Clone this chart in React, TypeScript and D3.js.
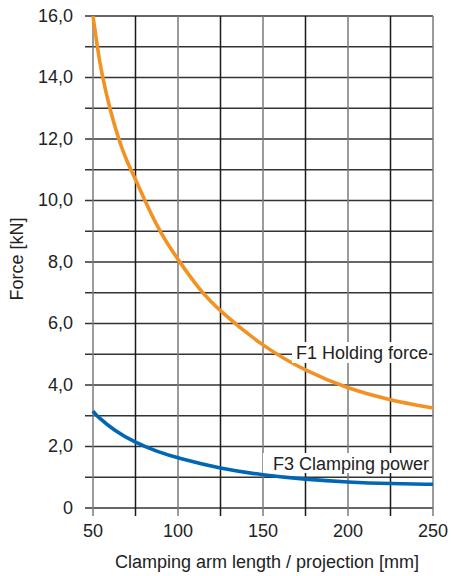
import React from "react";
import * as d3 from "d3";

const f1Length = [50, 52.5, 55, 60, 65, 70, 75, 80, 90, 100, 112.5, 125, 150, 175, 200, 225, 250];
const f1Force = [16.0, 15.0, 14.15, 12.95, 12.0, 11.25, 10.7, 10.05, 8.9, 8.08, 7.1, 6.38, 5.25, 4.45, 3.88, 3.5, 3.25];
const f3Length = [50, 52.5, 62.5, 75, 87.5, 100, 125, 150, 175, 200, 225, 250];
const f3Force = [3.15, 2.98, 2.52, 2.12, 1.84, 1.62, 1.28, 1.07, 0.93, 0.84, 0.79, 0.77];
const xTicks = [50, 100, 150, 200, 250];
const yTicks = [0, 2, 4, 6, 8, 10, 12, 14, 16];
const yTickLabels = ["0", "2,0", "4,0", "6,0", "8,0", "10,0", "12,0", "14,0", "16,0"];
const xGrid = [50, 75, 100, 125, 150, 175, 200, 225, 250];
const yGrid = [0, 1, 2, 3, 4, 5, 6, 7, 8, 9, 10, 11, 12, 13, 14, 15, 16];

const W = 451, H = 576;
const left = 93, right = 433, top = 16, bottom = 508;
const font = "'Liberation Sans', Arial, Helvetica, sans-serif";
const fs = 18;

export default function App() {
  const x = d3.scaleLinear().domain([50, 250]).range([left, right]);
  const y = d3.scaleLinear().domain([0, 16]).range([bottom, top]);
  const makeLine = (xs: number[]) =>
    d3
      .line<number>()
      .x((_, i) => x(xs[i]))
      .y((d) => y(d))
      .curve(d3.curveBasis);

  return (
    <svg width={W} height={H} style={{ position: "absolute", left: 0, top: 0, background: "#fff" }} fontFamily={font}>
      {yGrid.map((v) => (
        <line key={"h" + v} x1={left - 8} x2={right} y1={y(v)} y2={y(v)} stroke="#333" strokeWidth={1.4} />
      ))}
      {xGrid.map((v, i) => (
        <line key={"v" + v} x1={x(v)} x2={x(v)} y1={top} y2={bottom + 8} stroke={i % 2 === 0 ? "#7a7a7a" : "#1a1a1a"} strokeWidth={1.5} />
      ))}
      <path d={makeLine(f1Length)(f1Force) || ""} fill="none" stroke="#f39223" strokeWidth={3.6} />
      <path d={makeLine(f3Length)(f3Force) || ""} fill="none" stroke="#0067b4" strokeWidth={3.6} />
      <rect x={292} y={342} width={137} height={21} fill="#fff" />
      <text x={428} y={359} textAnchor="end" fontSize={fs} fill="#222">F1 Holding force</text>
      <rect x={263} y={453} width={169} height={20} fill="#fff" />
      <text x={429} y={470} textAnchor="end" fontSize={fs} fill="#222">F3 Clamping power</text>
      {yTicks.map((v, i) => (
        <text key={"yt" + v} x={73} y={y(v) + 5.5} textAnchor="end" fontSize={fs} fill="#222">{yTickLabels[i]}</text>
      ))}
      {xTicks.map((v) => (
        <text key={"xt" + v} x={x(v)} y={537} textAnchor="middle" fontSize={fs} fill="#222">{v}</text>
      ))}
      <text x={267} y={568} textAnchor="middle" fontSize={fs} fill="#222">Clamping arm length / projection [mm]</text>
      <text transform={`translate(23,259) rotate(-90)`} textAnchor="middle" fontSize={fs} fill="#222">Force [kN]</text>
    </svg>
  );
}
